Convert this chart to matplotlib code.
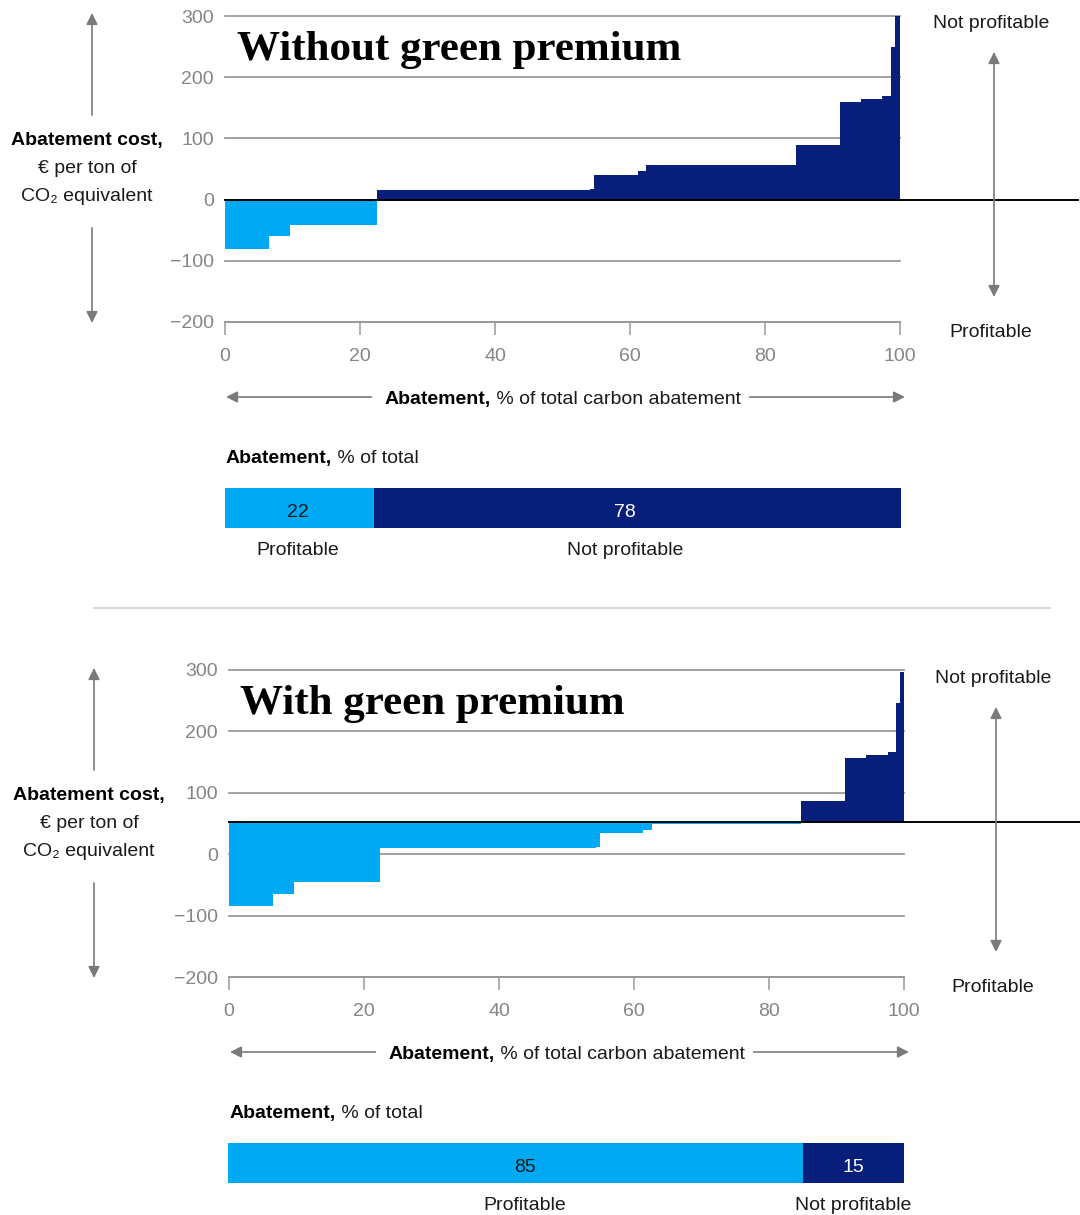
import matplotlib
matplotlib.use("Agg")
import matplotlib.pyplot as plt

W, H = 1080, 1215
LIGHT = "#00A9F4"
NAVY = "#071F7B"
GRID = "#9a9a9a"
TICK = "#858585"
ARROW = "#7a7a7a"
INK = "#1a1a1a"
SANS = ["Liberation Sans", "DejaVu Sans"]
SERIF = ["Liberation Serif", "DejaVu Serif"]
FS = 14
DY = 2.5  # nudges centred text onto its optical centre line

# Abatement cost curves: segment boundaries (% of total abatement) and cost (EUR per t CO2e)
edges_without = [0, 6.5, 9.6, 22.5, 54.1, 54.7, 61.2, 62.4, 84.6, 91.1, 94.2, 97.4, 98.7, 99.3, 100]
cost_without = [-81, -60, -41, 15, 18, 41, 46, 56, 90, 160, 165, 170, 250, 300]
breakeven_without = 0

edges_with = [0, 6.5, 9.6, 22.4, 54.4, 55.0, 61.3, 62.7, 84.7, 91.3, 94.4, 97.6, 98.8, 99.4, 100]
cost_with = [-85, -65, -46, 10, 12, 34, 39, 49, 86, 156, 161, 166, 246, 296]
breakeven_with = 53

share_labels = ["Profitable", "Not profitable"]
share_without = [22, 78]
share_with = [85, 15]
# where each share's labels sit along the bar (% of bar length)
label_pos_without = [10.8, 59.2]
label_pos_with = [43.9, 92.5]

y_ticks = [-200, -100, 0, 100, 200, 300]
x_ticks = [0, 20, 40, 60, 80, 100]

fig = plt.figure(figsize=(W / 100, H / 100), dpi=100)


def px_axes(x0, y0, x1, y1):
    return fig.add_axes([x0 / W, 1 - y1 / H, (x1 - x0) / W, (y1 - y0) / H])


def cost_curve(x0, y0, x1, y1, edges, costs, breakeven, line_end):
    ax = px_axes(x0, y0, x1, y1)
    lefts = edges[:-1]
    widths = [b - a for a, b in zip(edges[:-1], edges[1:])]
    heights = [c - breakeven for c in costs]
    colors = [LIGHT if c < breakeven else NAVY for c in costs]
    ax.bar(lefts, heights, width=widths, bottom=breakeven, align="edge",
           color=colors, edgecolor="none", linewidth=0, zorder=2)
    ax.set_xlim(0, 100)
    ax.set_ylim(-200, 300)
    ax.set_yticks(y_ticks)
    ax.set_xticks(x_ticks)
    ax.set_yticklabels([f"{v:d}".replace("-", "\u2212") for v in y_ticks])
    ax.grid(axis="y", color=GRID, lw=1.3, zorder=1)
    ax.set_axisbelow(True)
    for gl in ax.get_ygridlines():
        gl.set_clip_on(False)
    for s in ("top", "right", "left"):
        ax.spines[s].set_visible(False)
    ax.spines["bottom"].set_color(GRID)
    ax.spines["bottom"].set_linewidth(1.3)
    ax.tick_params(axis="y", length=0, pad=8, labelsize=FS, labelcolor=TICK)
    ax.tick_params(axis="x", length=9, width=1.1, color=GRID, direction="out",
                   pad=10, labelsize=FS, labelcolor=TICK)
    for lab in ax.get_xticklabels() + ax.get_yticklabels():
        lab.set_family(SANS)
    ax.axhline(breakeven, xmin=0, xmax=(line_end - x0) / (x1 - x0),
               color="black", lw=1.4, clip_on=False, zorder=3)
    ax.patch.set_alpha(0)
    return ax


def share_bar(x0, y0, x1, y1, shares, label_pos):
    ax = px_axes(x0, y0, x1, y1)
    left = 0
    for i, v in enumerate(shares):
        ax.barh(0.5, v, left=left, height=1, color=[LIGHT, NAVY][i], edgecolor="none")
        ax.text(label_pos[i], 0.39, f"{v}", ha="center", va="center", fontsize=FS,
                color=[INK, "white"][i], family=SANS)
        ax.text(label_pos[i], -0.56, share_labels[i], ha="center", va="center",
                fontsize=FS, color=INK, family=SANS)
        left += v
    ax.set_xlim(0, 100)
    ax.set_ylim(0, 1)
    ax.axis("off")
    return ax


ax1 = cost_curve(225, 16, 900, 322, edges_without, cost_without, breakeven_without, 1078)
sb1 = share_bar(225, 488, 901, 528, share_without, label_pos_without)
ax2 = cost_curve(229, 670, 904, 977, edges_with, cost_with, breakeven_with, 1080)
sb2 = share_bar(228, 1143, 904, 1183, share_with, label_pos_with)

# Annotation layer in figure pixel coordinates
ov = fig.add_axes([0, 0, 1, 1])
ov.set_xlim(0, W)
ov.set_ylim(H, 0)
ov.axis("off")
ov.patch.set_alpha(0)
renderer = fig.canvas.get_renderer()


def arrow(x0, y0, x1, y1, style="-|>"):
    ov.annotate("", xy=(x1, y1), xytext=(x0, y0),
                arrowprops=dict(arrowstyle=style, color=ARROW, lw=1.2,
                                mutation_scale=17, shrinkA=0, shrinkB=0))


def label(x, y, s, bold=False, ha="center"):
    return ov.text(x, y + DY, s, ha=ha, va="center", fontsize=FS,
                   fontweight="bold" if bold else "normal", family=SANS,
                   color="black" if bold else INK)


def mixed(x, y, bold, rest, ha="left"):
    t1 = label(0, y, bold, bold=True, ha="left")
    t2 = label(0, y, rest, ha="left")
    w1 = t1.get_window_extent(renderer).width
    w2 = t2.get_window_extent(renderer).width
    start = x - (w1 + w2) / 2 if ha == "center" else x
    t1.set_x(start)
    t2.set_x(start + w1)
    return start, start + w1 + w2


def panel_labels(title, tx, ty, dx, dy, ax_left, ax_right):
    ov.text(tx, ty, title, fontsize=31, fontweight="bold", family=SERIF,
            color="black", ha="left", va="baseline")
    # y-axis caption with arrows
    cx = 87 + dx
    label(cx, 138 + dy, "Abatement cost,", bold=True)
    label(cx, 166 + dy, "\u20ac per ton of")
    label(cx, 194 + dy, "CO\u2082 equivalent")
    arrow(92 + dx, 115 + dy, 92 + dx, 13 + dy)
    arrow(92 + dx, 228 + dy, 92 + dx, 323 + dy)
    # right-hand profitability scale
    rx = 991 + dx
    label(rx, 21 + dy, "Not profitable")
    label(rx, 330 + dy, "Profitable")
    arrow(rx + 3, 297 + dy, rx + 3, 52 + dy, style="<|-|>")
    # x-axis caption with arrows
    l, r = mixed((ax_left + ax_right) / 2, 397 + dy, "Abatement,",
                 " % of total carbon abatement", ha="center")
    arrow(l - 13, 397 + dy, ax_left + 1, 397 + dy)
    arrow(r + 9, 397 + dy, ax_right + 5, 397 + dy)
    mixed(ax_left + 1, 456 + dy, "Abatement,", " % of total")


panel_labels("Without green premium", 237, 60, 0, 0, 225, 900)
panel_labels("With green premium", 240, 714, 2, 655, 229, 904)

# divider between the two panels
ov.plot([94, 1050], [608, 608], color="#d0d0d0", lw=1.2)

fig.savefig("out.png", dpi=100)
